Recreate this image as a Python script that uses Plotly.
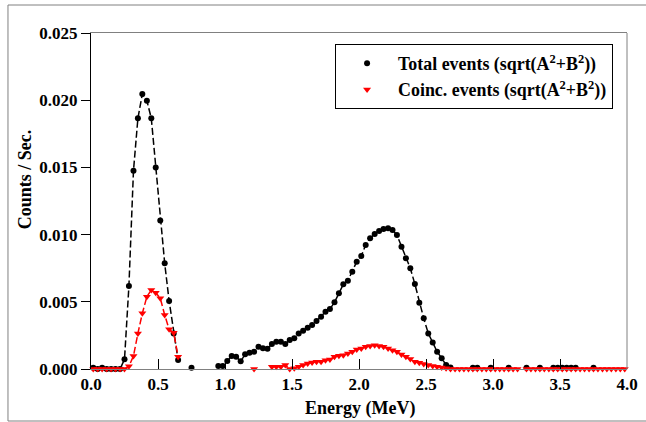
import plotly.graph_objects as go

# ---------------- data ----------------
total_energy = [
    0.017, 0.050, 0.083, 0.117, 0.150, 0.183, 0.217, 0.250, 0.283, 0.317,
    0.350, 0.383, 0.417, 0.450, 0.483, 0.517, 0.550, 0.583, 0.617, 0.650,
    0.683, 0.750, 0.783,
    0.950, 0.983, 1.017, 1.050, 1.083, 1.117, 1.150, 1.183, 1.217, 1.250,
    1.283, 1.317, 1.350, 1.383, 1.417, 1.450, 1.483, 1.517, 1.550, 1.583,
    1.617, 1.650, 1.683, 1.717, 1.750, 1.783, 1.817, 1.850, 1.883, 1.917,
    1.950, 1.983, 2.017, 2.050, 2.083, 2.117, 2.150, 2.183, 2.217, 2.250,
    2.283, 2.317, 2.350, 2.383, 2.417, 2.450, 2.483, 2.517, 2.550, 2.583,
    2.617, 2.650, 2.683, 2.717,
    2.850, 2.883, 2.917, 2.983, 3.017, 3.117, 3.150, 3.250, 3.283, 3.350,
    3.383, 3.450, 3.483, 3.517, 3.550, 3.583, 3.617, 3.650, 3.750, 3.783,
]
total_counts = [
    0.0001, 0.0, 0.0001, 0.0, 0.0, 0.0, 0.0, 0.00072, 0.00618, 0.01476,
    0.01865, 0.02046, 0.01996, 0.01865, 0.01500, 0.01104, 0.00786, 0.00506, 0.00265, 0.00067,
    None, 0.0001, None,
    0.00022, 0.00022, 0.00060, 0.00097, 0.00092, 0.00057, 0.00109, 0.00121, 0.00129, 0.00166,
    0.00154, 0.00151, 0.00186, 0.00203, 0.00203, 0.00186, 0.00216, 0.00228, 0.00265, 0.00285,
    0.00307, 0.00327, 0.00357, 0.00389, 0.00426, 0.00446, 0.00496, 0.00563, 0.00630, 0.00657,
    0.00724, 0.00798, 0.00841, 0.00923, 0.00972, 0.01004, 0.01027, 0.01042, 0.01047, 0.01034,
    0.00997, 0.00910, 0.00824, 0.00749, 0.00632, 0.00493, 0.00377, 0.00265, 0.00198, 0.00129,
    0.00080, 0.00030, 0.00012, None,
    0.0001, 0.0001, None, 0.0001, None, 0.0001, None, 0.0001, None, 0.0001,
    None, 0.0001, 0.0001, 0.0001, 0.0001, 0.0001, 0.0001, None, 0.0001, None,
]

coinc_energy = [
    0.017, 0.050, 0.083, 0.117, 0.150, 0.183, 0.217, 0.250, 0.283, 0.317,
    0.350, 0.383, 0.417, 0.450, 0.483, 0.517, 0.550, 0.583, 0.617, 0.650,
    0.683, 1.217, 1.250,
    1.350, 1.383, 1.417, 1.450, 1.483, 1.517, 1.550, 1.583, 1.617, 1.650,
    1.683, 1.717, 1.750, 1.783, 1.817, 1.850, 1.883, 1.917, 1.950, 1.983,
    2.017, 2.050, 2.083, 2.117, 2.150, 2.183, 2.217, 2.250, 2.283, 2.317,
    2.350, 2.383, 2.417, 2.450, 2.483, 2.517, 2.550, 2.583, 2.617, 2.650,
    2.683, 2.717, 2.750, 2.783, 2.817, 2.850, 2.883, 2.917, 2.950, 2.983,
    3.017, 3.050, 3.083, 3.117, 3.150, 3.183, 3.217, 3.250, 3.283, 3.317,
    3.350, 3.383, 3.417, 3.450, 3.483, 3.517, 3.550, 3.583, 3.617, 3.650,
    3.683, 3.717, 3.750, 3.783, 3.817, 3.850, 3.883, 3.917, 3.950, 3.983,
]
coinc_counts = [
    0.0, 0.0, 0.0, 0.0, 0.0, 0.0, 0.0, 0.0, 0.00020, 0.00097,
    0.00265, 0.00414, 0.00538, 0.00588, 0.00568, 0.00526, 0.00402, 0.00295, 0.00270, 0.00092,
    None, 0.0, None,
    0.00017, 0.00017, 0.00017, 0.00029, 0.0, 0.00005, 0.00017, 0.00029, 0.00041, 0.00049,
    0.00054, 0.00054, 0.00066, 0.00071, 0.00091, 0.00098, 0.00103, 0.00115, 0.00128, 0.00145,
    0.00152, 0.00165, 0.00172, 0.00177, 0.00172, 0.00165, 0.00152, 0.00140, 0.00128, 0.00108,
    0.00091, 0.00074, 0.00054, 0.00047, 0.00037, 0.00029, 0.00022, 0.00017, 0.00012, 0.00005,
    0.0, 0.0, 0.0, 0.0, 0.0, 0.0, 0.0, 0.0, 0.0, 0.0,
    0.0, 0.0, 0.0, 0.0, 0.0, 0.0, None, 0.0, 0.0, 0.0,
    0.0, 0.0, 0.0, 0.0, 0.0, 0.0, 0.0, 0.0, 0.0, 0.0,
    0.0, 0.0, 0.0, 0.0, 0.0, 0.0, 0.0, 0.0, 0.0, 0.0,
]

x_ticks = [0.0, 0.5, 1.0, 1.5, 2.0, 2.5, 3.0, 3.5, 4.0]
y_ticks = [0.000, 0.005, 0.010, 0.015, 0.020, 0.025]

x_title = "Energy (MeV)"
y_title = "Counts / Sec."
label_total = "Total events (sqrt(A<sup>2</sup>+B<sup>2</sup>))"
label_coinc = "Coinc. events (sqrt(A<sup>2</sup>+B<sup>2</sup>))"

FONT = "Liberation Serif"
GREY = "#808080"

fig = go.Figure()

fig.add_trace(go.Scatter(
    x=total_energy, y=total_counts, mode="lines+markers",
    line=dict(color="black", width=1.5, dash="7px,3px"),
    marker=dict(symbol="circle", size=6, color="black"),
    connectgaps=False, showlegend=False, cliponaxis=False,
))
fig.add_trace(go.Scatter(
    x=coinc_energy, y=coinc_counts, mode="lines+markers",
    line=dict(color="red", width=1.5, dash="7px,3px"),
    marker=dict(symbol="triangle-down", size=7, color="red"),
    connectgaps=False, showlegend=False, cliponaxis=False,
))
# legend entries (marker only)
fig.add_trace(go.Scatter(x=[None], y=[None], mode="markers", name=label_total,
                         marker=dict(symbol="circle", size=6, color="black")))
fig.add_trace(go.Scatter(x=[None], y=[None], mode="markers", name=label_coinc,
                         marker=dict(symbol="triangle-down", size=7, color="red")))

fig.update_layout(
    width=646, height=422,
    margin=dict(l=91, r=19, t=33, b=53, autoexpand=False),
    paper_bgcolor="white", plot_bgcolor="white",
    font=dict(family=FONT, size=16, color="black"),
    legend=dict(
        x=0.974, y=0.967, xanchor="right", yanchor="top",
        bgcolor="white", bordercolor="black", borderwidth=1,
        font=dict(family=FONT, size=17.9, color="black", weight="bold"),
        itemwidth=52, tracegroupgap=0,
    ),
    xaxis=dict(
        range=[0, 4], tickmode="array", tickvals=x_ticks,
        ticktext=[f"{v:.1f}" for v in x_ticks],
        ticks="inside", ticklen=10, tickcolor="black", tickwidth=1,
        showline=True, linecolor=GREY, linewidth=1, mirror=True,
        showgrid=False, zeroline=False, automargin=False,
        tickfont=dict(family=FONT, size=17, weight="bold"),
    ),
    yaxis=dict(
        range=[0, 0.025], tickmode="array", tickvals=y_ticks,
        ticktext=[f"{v:.3f}" for v in y_ticks],
        ticks="outside", ticklen=9, tickcolor="black", tickwidth=1,
        showline=True, linecolor="black", linewidth=1, mirror=False,
        showgrid=False, zeroline=False, automargin=False,
        tickfont=dict(family=FONT, size=17, weight="bold"),
    ),
    annotations=[
        dict(text=f"<b>{x_title}</b>", xref="paper", yref="paper", x=0.502, y=-0.119,
             xanchor="center", yanchor="middle", showarrow=False,
             font=dict(family=FONT, size=18, color="black")),
        dict(text=f"<b>{y_title}</b>", xref="paper", yref="paper", x=-0.123, y=0.565,
             xanchor="center", yanchor="middle", showarrow=False, textangle=-90,
             font=dict(family=FONT, size=18, color="black")),
    ],
    shapes=[
        dict(type="line", xref="paper", yref="paper", x0=1, x1=1, y0=0, y1=1,
             line=dict(color=GREY, width=1)),
        dict(type="rect", xref="paper", yref="paper", x0=-0.1549, x1=1.06, y0=-0.1548, y1=1.0833,
             line=dict(color=GREY, width=1), layer="below"),
    ],
)

fig.write_html(
    "out.html",
    config={"displayModeBar": False},
    post_script="document.body.style.margin='0';document.body.style.overflow='hidden';",
)
